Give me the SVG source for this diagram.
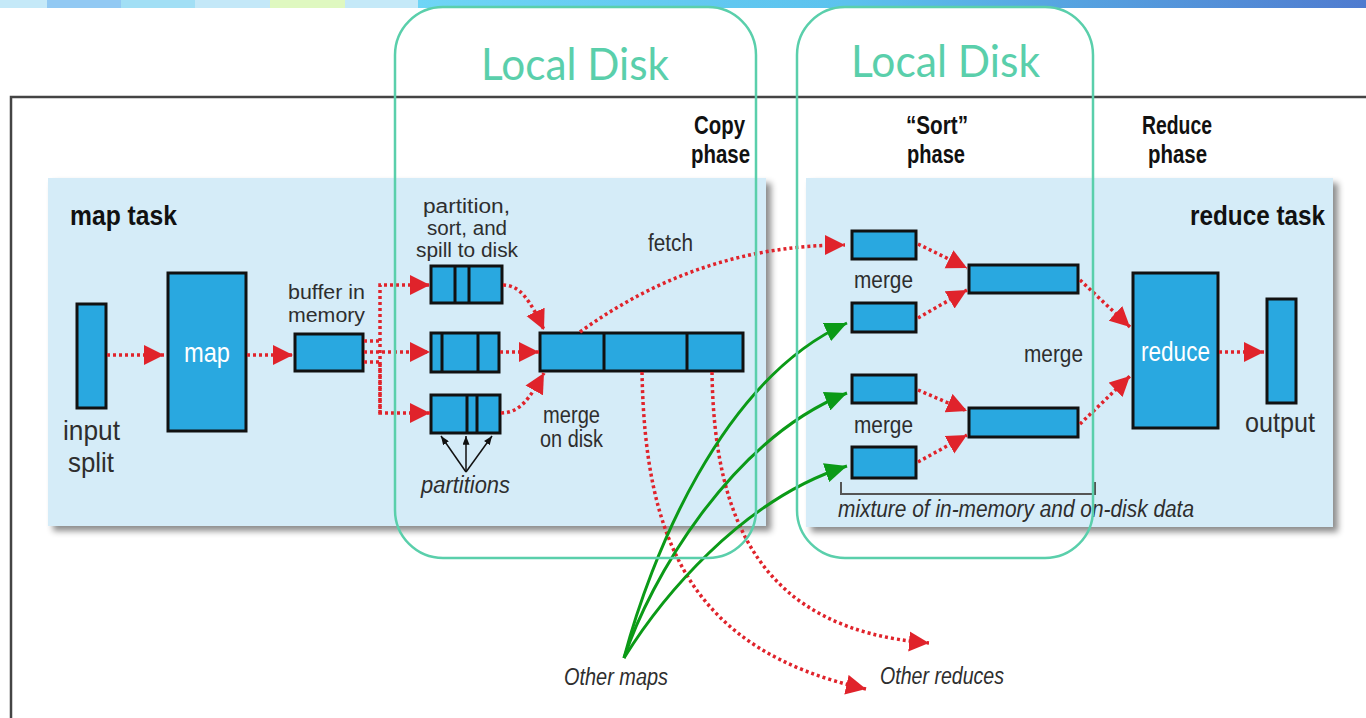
<svg xmlns="http://www.w3.org/2000/svg" width="1366" height="718" viewBox="0 0 1366 718">
<defs>
<linearGradient id="bar" x1="418" y1="0" x2="1366" y2="0" gradientUnits="userSpaceOnUse">
<stop offset="0" stop-color="#6fd5f6"/><stop offset="0.45" stop-color="#5cc2ee"/><stop offset="1" stop-color="#4f7bcf"/>
</linearGradient>
<filter id="shadow" x="-5%" y="-5%" width="115%" height="120%"><feDropShadow dx="5" dy="5" stdDeviation="3" flood-color="#000" flood-opacity="0.45"/></filter>
<marker id="ra" viewBox="0 0 20 20" refX="20" refY="10" markerWidth="20" markerHeight="21" markerUnits="userSpaceOnUse" orient="auto"><path d="M0,0 L20,10 L0,20 z" fill="#e0232b" stroke="none"/></marker>
<marker id="ga" viewBox="0 0 22 20" refX="22" refY="10" markerWidth="22" markerHeight="20" markerUnits="userSpaceOnUse" orient="auto"><path d="M0,0 L22,10 L0,20 z" fill="#0b9a17" stroke="none"/></marker>
<marker id="ba" viewBox="0 0 10 8" refX="10" refY="4" markerWidth="9" markerHeight="7" markerUnits="userSpaceOnUse" orient="auto"><path d="M0,0 L10,4 L0,8 z" fill="#111" stroke="none"/></marker>
</defs>
<style>
.panel{fill:#d5ecf8;filter:url(#shadow)}
.box{fill:#29a8e0;stroke:#111;stroke-width:3}
.div{stroke:#111;stroke-width:3}
.dot{fill:none;stroke:#e0232b;stroke-width:3.5;stroke-dasharray:3 3;marker-end:url(#ra)}
.green{fill:none;stroke:#0b9a17;stroke-width:3;marker-end:url(#ga)}
.thin{fill:none;stroke:#111;stroke-width:1.5;marker-end:url(#ba)}
.lbl{font-family:"Liberation Sans",Arial,sans-serif;font-size:23px;fill:#2e2e2e}
.sm{font-size:20px}
.bold{font-family:"Liberation Sans",Arial,sans-serif;font-weight:bold;font-size:26px;fill:#111}
.big{font-size:28px}
.it{font-style:italic}
.white{fill:#fff}
.disk{fill:none;stroke:#5acfab;stroke-width:2.5}
.disktxt{font-family:Lato,"Open Sans",sans-serif;font-size:44px;fill:#5acfab}
</style>

<g id="topbar">
<rect x="0" y="0" width="47" height="8" fill="#c5e9f8"/>
<rect x="47" y="0" width="74" height="8" fill="#92c9f3"/>
<rect x="121" y="0" width="74" height="8" fill="#a2dff5"/>
<rect x="195" y="0" width="75" height="8" fill="#c4e8f8"/>
<rect x="270" y="0" width="75" height="8" fill="#dff8c0"/>
<rect x="345" y="0" width="73" height="8" fill="#c5e9f8"/>
<rect x="418" y="0" width="948" height="8" fill="url(#bar)"/>
</g>

<g id="frame"><path d="M11,718 V97 H1366" fill="none" stroke="#444" stroke-width="2.5"/></g>

<g id="phase-labels">
<text class="bold" x="694" y="134" textLength="51" lengthAdjust="spacingAndGlyphs">Copy</text>
<text class="bold" x="691" y="163" textLength="59" lengthAdjust="spacingAndGlyphs">phase</text>
<text class="bold" x="906" y="134" textLength="62" lengthAdjust="spacingAndGlyphs">“Sort”</text>
<text class="bold" x="907" y="163" textLength="58" lengthAdjust="spacingAndGlyphs">phase</text>
<text class="bold" x="1142" y="134" textLength="70" lengthAdjust="spacingAndGlyphs">Reduce</text>
<text class="bold" x="1148" y="163" textLength="59" lengthAdjust="spacingAndGlyphs">phase</text>
</g>

<g id="map-task">
<rect class="panel" x="48" y="178" width="718" height="348"/>
<text class="bold big" x="70" y="225" textLength="107" lengthAdjust="spacingAndGlyphs">map task</text>
</g>

<g id="reduce-task">
<rect class="panel" x="806" y="178" width="527" height="349"/>
<text class="bold big" x="1190" y="225" textLength="135" lengthAdjust="spacingAndGlyphs">reduce task</text>
</g>

<g id="input-split">
<rect class="box" x="77" y="304" width="29" height="104"/>
<text class="lbl big" x="63" y="440" textLength="57" lengthAdjust="spacingAndGlyphs">input</text>
<text class="lbl big" x="68" y="472" textLength="46" lengthAdjust="spacingAndGlyphs">split</text>
</g>

<g id="map">
<rect class="box" x="168" y="273" width="78" height="158"/>
<text class="lbl big white" x="184" y="362" textLength="46" lengthAdjust="spacingAndGlyphs">map</text>
</g>

<g id="buffer">
<rect class="box" x="295" y="334" width="68" height="37"/>
<text class="lbl sm" x="288" y="299" textLength="77" lengthAdjust="spacingAndGlyphs">buffer in</text>
<text class="lbl sm" x="288" y="322" textLength="77" lengthAdjust="spacingAndGlyphs">memory</text>
</g>

<g id="spill">
<text class="lbl sm" x="423" y="213" textLength="87" lengthAdjust="spacingAndGlyphs">partition,</text>
<text class="lbl sm" x="427" y="235" textLength="80" lengthAdjust="spacingAndGlyphs">sort, and</text>
<text class="lbl sm" x="416" y="257" textLength="102" lengthAdjust="spacingAndGlyphs">spill to disk</text>
<rect class="box" x="431" y="266" width="71" height="37"/>
<line class="div" x1="455" y1="266" x2="455" y2="303"/>
<line class="div" x1="469" y1="266" x2="469" y2="303"/>
<rect class="box" x="431" y="333" width="68" height="39"/>
<line class="div" x1="442" y1="333" x2="442" y2="372"/>
<line class="div" x1="478" y1="333" x2="478" y2="372"/>
<rect class="box" x="431" y="395" width="69" height="38"/>
<line class="div" x1="467" y1="395" x2="467" y2="433"/>
<line class="div" x1="477" y1="395" x2="477" y2="433"/>
</g>

<g id="partitions">
<text class="lbl it" x="421" y="493" textLength="89" lengthAdjust="spacingAndGlyphs">partitions</text>
</g>

<g id="merge-on-disk">
<rect class="box" x="540" y="333" width="203" height="38"/>
<line class="div" x1="604" y1="333" x2="604" y2="371"/>
<line class="div" x1="687" y1="333" x2="687" y2="371"/>
<text class="lbl" x="543" y="423" textLength="57" lengthAdjust="spacingAndGlyphs">merge</text>
<text class="lbl" x="540" y="447" textLength="63" lengthAdjust="spacingAndGlyphs">on disk</text>
</g>

<g id="fetch-label"><text class="lbl" x="648" y="251" textLength="45" lengthAdjust="spacingAndGlyphs">fetch</text></g>

<g id="sort-merge">
<rect class="box" x="852" y="231" width="64" height="28"/>
<rect class="box" x="852" y="303" width="64" height="29"/>
<rect class="box" x="852" y="375" width="64" height="28"/>
<rect class="box" x="852" y="447" width="64" height="31"/>
<text class="lbl" x="854" y="288" textLength="59" lengthAdjust="spacingAndGlyphs">merge</text>
<text class="lbl" x="854" y="433" textLength="59" lengthAdjust="spacingAndGlyphs">merge</text>
<rect class="box" x="969" y="265" width="109" height="28"/>
<rect class="box" x="969" y="408" width="109" height="29"/>
<text class="lbl" x="1024" y="362" textLength="59" lengthAdjust="spacingAndGlyphs">merge</text>
<path d="M841,482 V494 H1095 V482" fill="none" stroke="#555" stroke-width="2"/>
<text class="lbl it" x="838" y="517" font-size="22" textLength="356" lengthAdjust="spacingAndGlyphs">mixture of in-memory and on-disk data</text>
</g>

<g id="reduce">
<rect class="box" x="1133" y="273" width="85" height="155"/>
<text class="lbl big white" x="1141" y="361" textLength="69" lengthAdjust="spacingAndGlyphs">reduce</text>
</g>

<g id="output">
<rect class="box" x="1267" y="299" width="29" height="104"/>
<text class="lbl big" x="1245" y="432" textLength="70" lengthAdjust="spacingAndGlyphs">output</text>
</g>

<g id="other-maps"><text class="lbl it" x="564" y="685" font-size="25" textLength="104" lengthAdjust="spacingAndGlyphs">Other maps</text></g>
<g id="other-reduces"><text class="lbl it" x="880" y="684" font-size="25" textLength="124" lengthAdjust="spacingAndGlyphs">Other reduces</text></g>

<g id="connectors">
<path class="dot" d="M107,355 H164"/>
<path class="dot" d="M247,355 H293"/>
<path class="dot" d="M364,341 H380 M380,413 V285 H430"/>
<path class="dot" d="M364,352 H430"/>
<path class="dot" d="M364,362 H380 V413 H430"/>
<path class="dot" d="M503,285 C520,285 530,300 544,330"/>
<path class="dot" d="M500,352 H539"/>
<path class="dot" d="M501,413 C520,413 530,398 544,373"/>
<path class="dot" d="M580,332 Q700,245 845,245"/>
<path class="dot" d="M642,372 C645,540 690,650 866,689"/>
<path class="dot" d="M712,372 C714,520 760,630 929,643"/>
<path class="dot" d="M918,244 L967,268"/>
<path class="dot" d="M918,318 L967,290"/>
<path class="dot" d="M918,390 L967,411"/>
<path class="dot" d="M918,462 L967,435"/>
<path class="dot" d="M1080,280 L1130,327"/>
<path class="dot" d="M1080,424 L1130,376"/>
<path class="dot" d="M1219,352 H1264"/>
<path class="green" d="M624,658 C650,560 720,380 847,323"/>
<path class="green" d="M624,658 C650,580 730,440 847,393"/>
<path class="green" d="M624,658 C660,600 740,500 847,466"/>
<path class="thin" d="M466,472 L441,436"/>
<path class="thin" d="M466,472 L466,436"/>
<path class="thin" d="M466,472 L492,436"/>
</g>

<g id="local-disk-1">
<rect class="disk" x="395" y="7" width="361" height="551" rx="48" ry="48"/>
<text class="disktxt" x="481" y="80" textLength="188" lengthAdjust="spacingAndGlyphs">Local Disk</text>
</g>
<g id="local-disk-2">
<rect class="disk" x="797" y="7" width="296" height="551" rx="48" ry="48"/>
<text class="disktxt" x="851" y="77" textLength="189" lengthAdjust="spacingAndGlyphs">Local Disk</text>
</g>
</svg>
